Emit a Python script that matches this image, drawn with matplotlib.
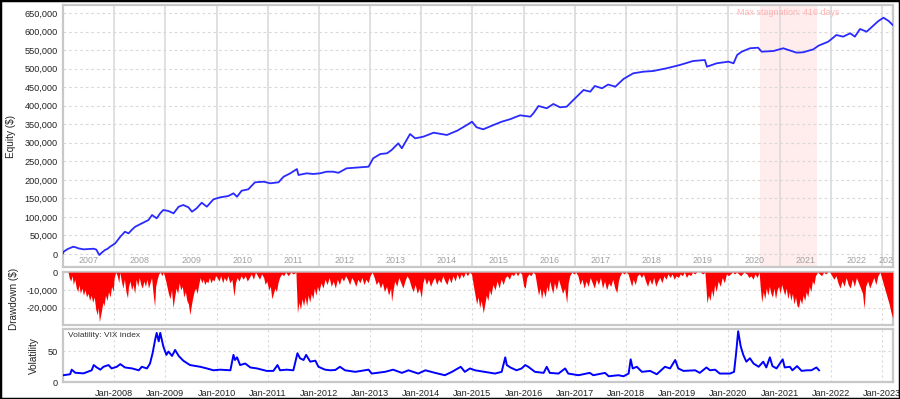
import matplotlib
matplotlib.use("Agg")
import matplotlib.pyplot as plt
from matplotlib.patches import Rectangle
from matplotlib.ticker import FixedLocator, FuncFormatter
import matplotlib.transforms as mtransforms

# ---------------- data ----------------
equity_years = [2007.00, 2007.01, 2007.10, 2007.20, 2007.25, 2007.30, 2007.40, 2007.50, 2007.60, 2007.65,
                2007.71, 2007.76, 2007.82, 2007.87, 2007.92, 2008.02, 2008.12, 2008.21, 2008.28, 2008.35,
                2008.41, 2008.54, 2008.67, 2008.74, 2008.83, 2008.90, 2008.96, 2009.06, 2009.16, 2009.26,
                2009.35, 2009.45, 2009.52, 2009.61, 2009.71, 2009.81, 2009.94, 2010.07, 2010.23, 2010.33,
                2010.40, 2010.49, 2010.62, 2010.75, 2010.92, 2011.05, 2011.21, 2011.31, 2011.44, 2011.57,
                2011.60, 2011.76, 2011.89, 2012.02, 2012.15, 2012.28, 2012.38, 2012.54, 2012.80, 2012.97,
                2013.06, 2013.20, 2013.33, 2013.42, 2013.55, 2013.62, 2013.78, 2013.88, 2014.04, 2014.24,
                2014.50, 2014.70, 2014.89, 2014.99, 2015.08, 2015.21, 2015.41, 2015.57, 2015.73, 2015.93,
                2016.13, 2016.19, 2016.29, 2016.45, 2016.58, 2016.71, 2016.84, 2016.97, 2017.17, 2017.30,
                2017.39, 2017.53, 2017.65, 2017.79, 2017.95, 2018.14, 2018.34, 2018.53, 2018.79, 2019.05,
                2019.31, 2019.54, 2019.58, 2019.77, 2020.00, 2020.10, 2020.17, 2020.26, 2020.42, 2020.58,
                2020.65, 2020.88, 2021.07, 2021.33, 2021.46, 2021.66, 2021.76, 2021.95, 2022.11, 2022.24,
                2022.38, 2022.47, 2022.57, 2022.70, 2022.83, 2022.93, 2023.03, 2023.13, 2023.21]
equity_values = [2000, 6200, 14000, 19700, 18000, 15400, 12600, 13500, 14300, 12000,
                 -2700, 4000, 10800, 14000, 19700, 28800, 46700, 60100, 55700, 66000,
                 73600, 82700, 91700, 105200, 96200, 110000, 118700, 116000, 109700, 127600,
                 132200, 126000, 114100, 123200, 138400, 127600, 147500, 152900, 156400, 163700,
                 154500, 170700, 174500, 193400, 195000, 190700, 193400, 208500, 217600, 229200,
                 213100, 217600, 215800, 217600, 222000, 222000, 219000, 231100, 233800, 235500,
                 258100, 269700, 271600, 280500, 298500, 285100, 323600, 312000, 316400, 327200,
                 321000, 332500, 347900, 356800, 341700, 336300, 347900, 356800, 363300, 374100,
                 370300, 379500, 399200, 393000, 404600, 395600, 397300, 415300, 442300, 437700,
                 453100, 446900, 457000, 451200, 472000, 487300, 491700, 493500, 500800, 509700,
                 520500, 523200, 505100, 514300, 518700, 514300, 536700, 545600, 554800, 556400,
                 545600, 547500, 554800, 543000, 544000, 552000, 561800, 572600, 590600, 586100,
                 595200, 586100, 606800, 599500, 615800, 628400, 637300, 628400, 617600]

dd_years = [2007.00, 2007.10, 2007.12, 2007.15, 2007.18, 2007.20, 2007.23, 2007.26, 2007.29, 2007.31,
            2007.34, 2007.37, 2007.40, 2007.43, 2007.46, 2007.49, 2007.52, 2007.55, 2007.58, 2007.61,
            2007.64, 2007.67, 2007.69, 2007.71, 2007.73, 2007.75, 2007.78, 2007.80, 2007.83, 2007.86,
            2007.89, 2007.92, 2007.95, 2007.98, 2008.00, 2008.03, 2008.06, 2008.09, 2008.11, 2008.14,
            2008.17, 2008.20, 2008.23, 2008.26, 2008.28, 2008.31, 2008.34, 2008.37, 2008.40, 2008.43,
            2008.46, 2008.49, 2008.52, 2008.55, 2008.58, 2008.61, 2008.64, 2008.67, 2008.70, 2008.73,
            2008.76, 2008.79, 2008.81, 2008.84, 2008.87, 2008.90, 2008.93, 2008.96, 2009.00, 2009.03,
            2009.06, 2009.09, 2009.12, 2009.15, 2009.18, 2009.21, 2009.24, 2009.27, 2009.30, 2009.33,
            2009.36, 2009.39, 2009.42, 2009.45, 2009.48, 2009.50, 2009.53, 2009.56, 2009.59, 2009.62,
            2009.65, 2009.68, 2009.71, 2009.74, 2009.77, 2009.80, 2009.83, 2009.86, 2009.89, 2009.92,
            2009.95, 2009.98, 2010.01, 2010.05, 2010.08, 2010.12, 2010.15, 2010.19, 2010.22, 2010.26,
            2010.30, 2010.34, 2010.37, 2010.40, 2010.44, 2010.48, 2010.52, 2010.56, 2010.60, 2010.64,
            2010.68, 2010.72, 2010.76, 2010.80, 2010.84, 2010.88, 2010.92, 2010.95, 2010.98, 2011.02,
            2011.05, 2011.08, 2011.11, 2011.14, 2011.17, 2011.20, 2011.23, 2011.27, 2011.31, 2011.35,
            2011.40, 2011.45, 2011.50, 2011.55, 2011.58, 2011.61, 2011.64, 2011.67, 2011.70, 2011.73,
            2011.76, 2011.79, 2011.82, 2011.85, 2011.88, 2011.91, 2011.94, 2011.97, 2012.00, 2012.04,
            2012.08, 2012.12, 2012.16, 2012.20, 2012.24, 2012.28, 2012.32, 2012.36, 2012.40, 2012.44,
            2012.48, 2012.52, 2012.56, 2012.60, 2012.64, 2012.68, 2012.72, 2012.76, 2012.80, 2012.84,
            2012.88, 2012.92, 2012.96, 2013.00, 2013.04, 2013.08, 2013.12, 2013.16, 2013.20, 2013.24,
            2013.28, 2013.32, 2013.36, 2013.40, 2013.42, 2013.45, 2013.48, 2013.52, 2013.56, 2013.60,
            2013.64, 2013.68, 2013.72, 2013.76, 2013.80, 2013.84, 2013.88, 2013.92, 2013.96, 2014.00,
            2014.03, 2014.06, 2014.10, 2014.14, 2014.18, 2014.22, 2014.26, 2014.30, 2014.34, 2014.38,
            2014.42, 2014.46, 2014.50, 2014.54, 2014.58, 2014.62, 2014.66, 2014.70, 2014.74, 2014.78,
            2014.82, 2014.86, 2014.90, 2014.94, 2014.98, 2015.02, 2015.05, 2015.08, 2015.11, 2015.14,
            2015.17, 2015.21, 2015.24, 2015.27, 2015.30, 2015.33, 2015.36, 2015.40, 2015.44, 2015.48,
            2015.52, 2015.56, 2015.60, 2015.64, 2015.68, 2015.72, 2015.76, 2015.80, 2015.84, 2015.88,
            2015.92, 2015.96, 2016.00, 2016.03, 2016.06, 2016.10, 2016.14, 2016.18, 2016.22, 2016.26,
            2016.29, 2016.32, 2016.35, 2016.38, 2016.42, 2016.45, 2016.48, 2016.51, 2016.54, 2016.57,
            2016.60, 2016.64, 2016.68, 2016.72, 2016.76, 2016.80, 2016.84, 2016.87, 2016.90, 2016.94,
            2016.98, 2017.02, 2017.06, 2017.10, 2017.14, 2017.18, 2017.22, 2017.26, 2017.30, 2017.34,
            2017.38, 2017.42, 2017.46, 2017.50, 2017.54, 2017.58, 2017.62, 2017.66, 2017.70, 2017.74,
            2017.78, 2017.82, 2017.85, 2017.88, 2017.92, 2017.96, 2018.00, 2018.04, 2018.08, 2018.11,
            2018.14, 2018.18, 2018.22, 2018.26, 2018.30, 2018.34, 2018.38, 2018.42, 2018.46, 2018.50,
            2018.54, 2018.58, 2018.62, 2018.66, 2018.70, 2018.74, 2018.78, 2018.82, 2018.86, 2018.90,
            2018.94, 2018.98, 2019.02, 2019.06, 2019.10, 2019.14, 2019.18, 2019.22, 2019.26, 2019.30,
            2019.34, 2019.38, 2019.45, 2019.50, 2019.54, 2019.56, 2019.58, 2019.61, 2019.64, 2019.67,
            2019.70, 2019.73, 2019.76, 2019.80, 2019.84, 2019.88, 2019.92, 2019.96, 2020.00, 2020.04,
            2020.08, 2020.12, 2020.16, 2020.24, 2020.30, 2020.36, 2020.40, 2020.44, 2020.48, 2020.52,
            2020.56, 2020.60, 2020.62, 2020.65, 2020.68, 2020.71, 2020.74, 2020.77, 2020.80, 2020.83,
            2020.86, 2020.89, 2020.92, 2020.95, 2020.98, 2021.01, 2021.04, 2021.07, 2021.10, 2021.13,
            2021.16, 2021.19, 2021.22, 2021.25, 2021.28, 2021.31, 2021.34, 2021.37, 2021.40, 2021.43,
            2021.46, 2021.49, 2021.52, 2021.55, 2021.58, 2021.61, 2021.64, 2021.67, 2021.70, 2021.74,
            2021.78, 2021.82, 2021.86, 2021.90, 2021.94, 2021.98, 2022.02, 2022.06, 2022.10, 2022.14,
            2022.18, 2022.22, 2022.26, 2022.30, 2022.34, 2022.38, 2022.42, 2022.46, 2022.50, 2022.54,
            2022.58, 2022.62, 2022.65, 2022.68, 2022.72, 2022.76, 2022.80, 2022.84, 2022.88, 2022.92,
            2022.96, 2023.00, 2023.04, 2023.08, 2023.11, 2023.14, 2023.17, 2023.21]
dd_thousands = [0, 0, -3, -5, -2, -7, -4, -9, -11, -7,
                -12, -9, -13, -10, -14, -12, -16, -13, -17, -14,
                -21, -24, -20, -28, -25, -22, -17, -19, -13, -16,
                -11, -14, -8, -11, -3, 0, -2, -6, 0, -5,
                -9, -4, -11, -14.5, -8, -5, -10, -7, -12, -4,
                -8, -3, -7, -9, -5, -8, -4, -9, -6, -3,
                -12, -19.5, -8, -4, -1, 0, -2, 0, -4, -8,
                -12, -15, -10, -20, -14, -9, -12, -6, -10, -8,
                -14, -11, -16, -18, -24, -20, -15, -11, -9, -12,
                -7, -3, -6, -4, -7, -5, -6, -3, -6, -4,
                -5, -2, -3, -5, -2, -6, -3, -5, -2, -6,
                -4, -13.5, -6, -3, -5, -2, -4, -2, -5, -3,
                -1, -4, 0, -2, -4, -1, -3, -7, -5, -10,
                -8, -15, -12, -9, -11, -6, -3, -1, -2, 0,
                -2, 0, -1, 0, -23, -17, -21, -15, -19, -14,
                -19, -13, -17, -12, -15, -9, -13, -8, -11, -6,
                -9, -4, -7, -3, -8, -5, -9, -4, -7, -3,
                -5, -2, -4, -7, -3, -5, -8, -4, -6, -3,
                -7, -4, -6, -2, 0, -3, -7, -5, -9, -6,
                -11, -8, -13, -9, -16.5, -10, -5, -8, -3, -6,
                -9, -5, -2, -4, -8, -11, -7, -12, -9, -14.5,
                -6, -3, -7, -4, -8, -5, -3, -7, -4, -6,
                -2, -5, -7, -3, -6, -2, -5, -1, -4, -1,
                -3, 0, -2, 0, -1, -8, -13, -18, -14, -20,
                -16, -23, -18, -13, -16, -10, -13, -7, -10, -5,
                -9, -4, -7, -3, -2, -4, -1, -2, 0, -2,
                0, -1, -8, -9, -3, -1, -2, 0, -1, -8,
                -13, -9, -15, -10, -14, -8, -11, -5, -9, -12,
                -6, -10, -4, -8, -12, -9, -17.5, -6, -2, 0,
                -1, 0, -2, -7, -4, -9, -5, -8, -3, -6,
                -9, -4, -7, -3, -9, -5, -10, -6, -8, -4,
                -9, -11.6, -5, -2, 0, -1, 0, -1, -5, -8,
                -4, -7, -2, -1, -3, -1, -5, -8, -4, -7,
                -3, -8, -5, -3, -6, -2, -4, -1, -3, -1,
                -4, -2, -3, -1, -2, 0, -3, -1, -2, 0,
                -1, 0, 0, -1, 0, -8, -17.5, -13, -16, -10,
                -14, -7, -11, -5, -8, -3, -6, -1, -2, -1,
                0, -1, 0, -2, 0, -1, -3, -2, -4, -1,
                -3, 0, -8, -17, -11, -15, -9, -13, -8, -12,
                -14, -9, -15, -10, -8, -12, -7, -10, -13, -9,
                -15, -11, -16, -12, -18, -14, -19, -19.8, -15, -18,
                -13, -16, -11, -14, -8, -11, -5, -7, -2, 0,
                -1, -2, 0, -1, 0, 0, -2, -4, -2, -6,
                -9, -5, -8, -3, -7, -9, -4, -8, -3, -6,
                -9, -12, -20.4, -8, -5, -9, -6, -3, -7, -2,
                0, -4, -8, -12, -15, -18, -22, -26]

vix_years = [2007.01, 2007.14, 2007.17, 2007.24, 2007.40, 2007.56, 2007.60, 2007.66, 2007.73, 2007.79,
             2007.89, 2007.95, 2008.05, 2008.12, 2008.21, 2008.35, 2008.48, 2008.54, 2008.64, 2008.70,
             2008.75, 2008.80, 2008.83, 2008.87, 2008.90, 2008.96, 2009.02, 2009.06, 2009.13, 2009.19,
             2009.26, 2009.35, 2009.48, 2009.68, 2009.81, 2009.94, 2010.07, 2010.27, 2010.33, 2010.36,
             2010.40, 2010.46, 2010.56, 2010.66, 2010.79, 2010.98, 2011.11, 2011.19, 2011.24, 2011.37,
             2011.50, 2011.58, 2011.63, 2011.70, 2011.75, 2011.83, 2011.93, 2011.99, 2012.12, 2012.22,
             2012.32, 2012.41, 2012.51, 2012.71, 2012.97, 2013.03, 2013.29, 2013.45, 2013.62, 2013.75,
             2013.94, 2014.08, 2014.27, 2014.46, 2014.60, 2014.77, 2014.85, 2014.95, 2015.05, 2015.24,
             2015.44, 2015.57, 2015.64, 2015.67, 2015.74, 2015.86, 2015.96, 2016.03, 2016.09, 2016.22,
             2016.39, 2016.45, 2016.51, 2016.68, 2016.81, 2016.87, 2017.07, 2017.29, 2017.36, 2017.59,
             2017.66, 2017.85, 2017.95, 2018.05, 2018.09, 2018.13, 2018.21, 2018.31, 2018.47, 2018.60,
             2018.76, 2018.86, 2018.96, 2019.02, 2019.12, 2019.35, 2019.44, 2019.57, 2019.64, 2019.74,
             2019.83, 2020.03, 2020.11, 2020.15, 2020.19, 2020.24, 2020.29, 2020.35, 2020.42, 2020.49,
             2020.59, 2020.68, 2020.74, 2020.81, 2020.86, 2020.94, 2021.06, 2021.10, 2021.20, 2021.25,
             2021.34, 2021.43, 2021.53, 2021.62, 2021.72, 2021.77]
vix_values = [11, 12.6, 20, 15, 14, 19, 27.5, 23.6, 20, 24.7,
              27.5, 22, 24.7, 29, 23.6, 22, 19, 24.7, 22, 30,
              46.7, 68.7, 79.7, 66, 79.7, 57.7, 44, 49.5, 42.3, 52,
              42.3, 34.6, 27.5, 24.7, 22, 19, 20, 19, 44, 35.7,
              40, 27.5, 30, 23.6, 22, 18, 18, 27.5, 19, 20,
              19, 46.7, 38.5, 35.7, 44, 33, 34.6, 24.7, 20, 19,
              19.5, 24.7, 19, 16.5, 20, 13.7, 16.5, 20, 14.8, 19,
              13.7, 19, 14.8, 11, 16.5, 24.7, 16.5, 22, 19, 16.5,
              13.7, 16.5, 40, 27.5, 23.6, 19, 22, 27.5, 24.7, 16.5,
              14.8, 24.7, 14.8, 13.7, 22, 13.7, 11, 14.8, 11, 14.8,
              9.3, 11, 9.3, 13.7, 36.8, 22, 24.7, 16.5, 18, 12.6,
              24.7, 22, 35.7, 22, 18, 19, 14.8, 23.6, 19, 20,
              13.7, 13.7, 16.5, 46.7, 82.4, 57.7, 44, 33, 38.5, 30,
              24.7, 33, 23.6, 40, 25.8, 22, 36.8, 23.6, 24.7, 19,
              25.8, 18, 19, 19, 23.6, 19]

year_labels = list(range(2007, 2024))
jan_ticks = list(range(2008, 2024))
equity_ticks = list(range(0, 650001, 50000))
dd_ticks = [0, -10000, -20000]
vix_ticks = [0, 50]
stagnation_start, stagnation_end = 2020.61, 2021.74
stagnation_text = "Max stagnation: 416 days"

# ---------------- figure ----------------
plt.rcParams['font.family'] = ['Liberation Sans', 'DejaVu Sans']
fig = plt.figure(figsize=(9.0, 3.99), dpi=100)
W, H = 900.0, 399.0

def ax_rect(l, t, r, b):
    return [l / W, 1 - b / H, (r - l) / W, (b - t) / H]

ax1 = fig.add_axes(ax_rect(63, 5, 893, 267))
ax2 = fig.add_axes(ax_rect(63, 272, 893, 325))
ax3 = fig.add_axes(ax_rect(63, 329, 893, 382))

xmin, xmax = 2007.0, 2023.215
spine_col = '#c8c8c8'
grid_col = '#d9d9d9'
tick_col = '#222222'
tfs = 6.6

for ax in (ax1, ax2, ax3):
    ax.set_xlim(xmin, xmax)
    for s in ax.spines.values():
        s.set_color(spine_col)
        s.set_linewidth(1.6)
    ax.tick_params(length=0, labelsize=tfs, colors=tick_col, pad=4)
    ax.set_facecolor('white')

# --- equity panel ---
ax1.set_ylim(-35000, 671500)
ax1.axvspan(stagnation_start, stagnation_end, color='#ffecec', lw=0, zorder=0)
for y in year_labels[1:]:
    ax1.axvline(y, color='#dadada', lw=1.2, zorder=1)
for v in equity_ticks:
    ax1.axhline(v, color=grid_col, lw=0.8, ls=(0, (2.5, 2.5)), zorder=1)
ax1.plot(equity_years, equity_values, color='#2a2aff', lw=1.3, zorder=3)
ax1.yaxis.set_major_locator(FixedLocator(equity_ticks))
ax1.yaxis.set_major_formatter(FuncFormatter(lambda v, p: f"{int(v):,}"))
ax1.set_xticks([])
trans1 = mtransforms.blended_transform_factory(ax1.transData, ax1.transAxes)
for y in year_labels:
    xc = y + 0.5 if y < 2023 else 2023.12
    ax1.text(xc, 0.024, str(y), transform=trans1, ha='center', va='center',
             fontsize=6.4, color='#a0a0a0', clip_on=True)
ax1.text((stagnation_start + stagnation_end) / 2, 0.972, stagnation_text, transform=trans1,
         ha='center', va='center', fontsize=6.4, color='#ffb4b4')
ax1.set_ylabel("Equity ($)", fontsize=7.2, color=tick_col)
ax1.yaxis.set_label_coords(-0.057, 0.5)

# --- drawdown panel ---
dd_values = [v * 1000 for v in dd_thousands]
ax2.set_ylim(-29800, 100)
ax2.fill_between(dd_years, dd_values, 0, color='#ff0000', lw=0, zorder=3)
ax2.yaxis.set_major_locator(FixedLocator(dd_ticks))
ax2.yaxis.set_major_formatter(FuncFormatter(lambda v, p: f"{int(v):,}"))
ax2.set_xticks(jan_ticks)
ax2.set_xticklabels([])
ax2.grid(True, color=grid_col, lw=0.8, ls=(0, (2, 2.5)), zorder=0)
ax2.set_axisbelow(True)
ax2.set_ylabel("Drawdown ($)", fontsize=7.2, color=tick_col)
ax2.yaxis.set_label_coords(-0.053, 0.5)

# --- volatility panel ---
ax3.set_ylim(0, 86)
ax3.plot(vix_years, vix_values, color='#0000ff', lw=1.4, zorder=3)
ax3.yaxis.set_major_locator(FixedLocator(vix_ticks))
ax3.set_xticks(jan_ticks)
ax3.set_xticklabels([f"Jan-{y}" for y in jan_ticks])
ax3.grid(True, color=grid_col, lw=0.8, ls=(0, (2, 2.5)), zorder=0)
ax3.set_axisbelow(True)
ax3.tick_params(axis='x', pad=5)
ax3.set_ylabel("Volatility", fontsize=7.2, color=tick_col)
ax3.yaxis.set_label_coords(-0.029, 0.5)
ax3.text(0.006, 0.88, "Volatility: VIX index", transform=ax3.transAxes, ha='left', va='center',
         fontsize=6.0, color='#333333')

# outer border
fig.patches.append(Rectangle((0, 0), 1, 1, transform=fig.transFigure, fill=False,
                             edgecolor='black', lw=2.5, zorder=10))

fig.savefig("out.png", dpi=100, facecolor='white')
